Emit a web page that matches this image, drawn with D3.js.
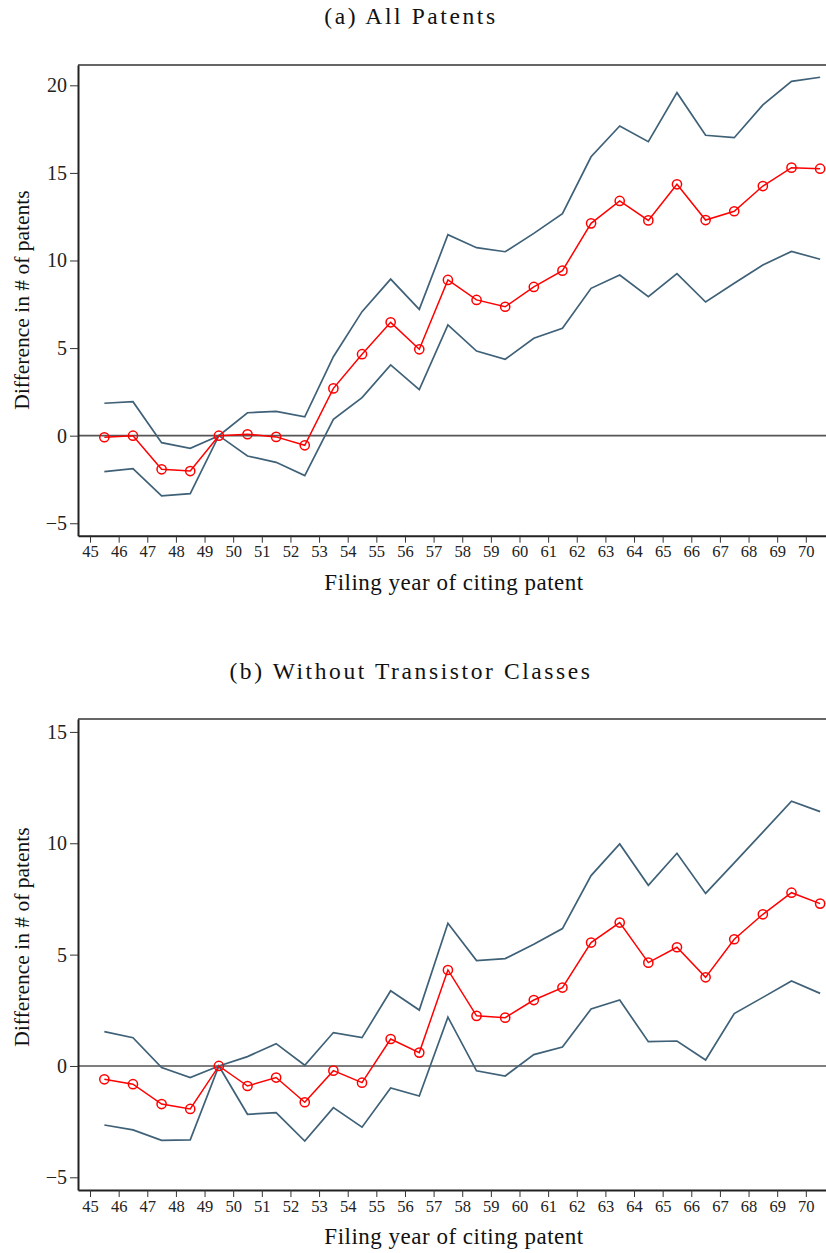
<!DOCTYPE html>
<html lang="en">
<head>
    <meta charset="UTF-8">
    <title>Difference in # of patents</title>
    <script src="https://d3js.org/d3.v7.min.js"></script>
    <style>
        body { margin: 0; background: #fff; }
        svg { display: block; font-family: "Liberation Serif", serif; }
        .tick text { fill: #222; }
    </style>
</head>
<body>
<svg width="826" height="1253"></svg>

<script>
    // filing year of citing patent (points sit mid-year)
    const years = d3.range(45.5, 71, 1);
    const xTicks = d3.range(45, 71);

    // (a) all patents
    const allEst   = [-0.09, 0.0, -1.92, -2.02, 0, 0.08, -0.07, -0.55, 2.7, 4.65, 6.47, 4.93, 8.89,
                      7.75, 7.36, 8.49, 9.42, 12.12, 13.4, 12.29, 14.35, 12.31, 12.81, 14.25, 15.3, 15.24];
    const allUpper = [1.85, 1.94, -0.4, -0.72, 0, 1.31, 1.39, 1.08, 4.51, 7.08, 8.94, 7.21, 11.47,
                      10.73, 10.5, 11.55, 12.67, 15.92, 17.68, 16.78, 19.58, 17.15, 17.01, 18.88, 20.23, 20.46];
    const allLower = [-2.05, -1.88, -3.44, -3.31, 0, -1.16, -1.52, -2.28, 0.93, 2.17, 4.04, 2.63, 6.32,
                      4.83, 4.36, 5.56, 6.13, 8.41, 9.17, 7.93, 9.25, 7.63, 8.7, 9.74, 10.52, 10.07];
    const yTicksA = [-5, 0, 5, 10, 15, 20];

    // (b) without transistor classes
    const noTrEst   = [-0.6, -0.82, -1.71, -1.93, 0, -0.9, -0.52, -1.63, -0.21, -0.75, 1.21, 0.6, 4.31,
                       2.25, 2.17, 2.96, 3.52, 5.54, 6.44, 4.64, 5.33, 3.98, 5.69, 6.81, 7.78, 7.29];
    const noTrUpper = [1.54, 1.27, -0.07, -0.52, 0, 0.42, 1.0, 0.03, 1.5, 1.27, 3.38, 2.51, 6.41,
                       4.73, 4.82, 5.46, 6.17, 8.55, 9.97, 8.11, 9.55, 7.75, 9.12, 10.5, 11.89, 11.42];
    const noTrLower = [-2.65, -2.87, -3.34, -3.32, 0, -2.17, -2.1, -3.37, -1.87, -2.75, -0.99, -1.35, 2.19,
                       -0.22, -0.45, 0.51, 0.85, 2.56, 2.96, 1.09, 1.12, 0.27, 2.35, 3.08, 3.82, 3.26];
    const yTicksB = [-5, 0, 5, 10, 15];

    const svg = d3.select("svg");
    const ciColor = "#3f6178";
    const estColor = "#ff0000";

    function drawPanel(p) {
        const g = svg.append("g");
        const x = d3.scaleLinear().domain([44.58, 70.74]).range([78, 827]);
        const y = d3.scaleLinear().domain(p.yDomain).range([p.bottom, p.top]);

        g.append("text")
            .attr("x", 411).attr("y", p.titleY)
            .attr("text-anchor", "middle")
            .attr("font-size", 23.5)
            .attr("letter-spacing", 2.6)
            .attr("fill", "#111")
            .text(p.title);

        // top border of the frame
        g.append("line")
            .attr("x1", 78).attr("x2", 830)
            .attr("y1", p.top).attr("y2", p.top)
            .attr("stroke", "#666").attr("stroke-width", 2);

        // zero line
        g.append("line")
            .attr("x1", 78).attr("x2", 830)
            .attr("y1", y(0)).attr("y2", y(0))
            .attr("stroke", "#555").attr("stroke-width", 1.6);

        const line = d3.line().x((d, i) => x(years[i])).y(d => y(d));

        [p.upper, p.lower].forEach(s => {
            g.append("path")
                .datum(s)
                .attr("d", line)
                .attr("fill", "none")
                .attr("stroke", ciColor)
                .attr("stroke-width", 1.7);
        });

        g.append("path")
            .datum(p.est)
            .attr("d", line)
            .attr("fill", "none")
            .attr("stroke", estColor)
            .attr("stroke-width", 1.5);

        g.selectAll(".pt")
            .data(p.est)
            .enter().append("circle")
            .attr("cx", (d, i) => x(years[i]))
            .attr("cy", d => y(d))
            .attr("r", 4.6)
            .attr("fill", "none")
            .attr("stroke", estColor)
            .attr("stroke-width", 1.5);

        const yAxis = g.append("g")
            .attr("transform", "translate(78,0)")
            .call(d3.axisLeft(y).tickValues(p.yTicks).tickSize(8).tickSizeOuter(0).tickPadding(3)
                .tickFormat(d => d < 0 ? "\u2212" + Math.abs(d) : d));
        yAxis.select(".domain").attr("stroke", "#222").attr("stroke-width", 2);
        yAxis.selectAll(".tick line").attr("stroke", "#333");
        yAxis.selectAll("text").attr("font-size", 20).attr("font-family", "Liberation Serif");

        const xAxis = g.append("g")
            .attr("transform", `translate(0,${p.bottom})`)
            .call(d3.axisBottom(x).tickValues(xTicks).tickSize(7).tickSizeOuter(0).tickPadding(3));
        xAxis.select(".domain").attr("stroke", "#222").attr("stroke-width", 2);
        xAxis.selectAll(".tick line").attr("stroke", "#333");
        xAxis.selectAll("text").attr("font-size", 16.5).attr("font-family", "Liberation Serif");

        g.append("text")
            .attr("x", 454).attr("y", p.bottom + 54)
            .attr("text-anchor", "middle")
            .attr("font-size", 23)
            .attr("letter-spacing", 0.5)
            .attr("fill", "#111")
            .text("Filing year of citing patent");

        g.append("text")
            .attr("transform", `translate(29,${p.yTitleY}) rotate(-90)`)
            .attr("text-anchor", "middle")
            .attr("font-size", 21.5)
            .attr("fill", "#111")
            .text("Difference in # of patents");
    }

    drawPanel({
        title: "(a) All Patents", titleY: 24, yTitleY: 300,
        top: 65, bottom: 535.7, yDomain: [-5.71, 21.16], yTicks: yTicksA,
        est: allEst, upper: allUpper, lower: allLower
    });

    drawPanel({
        title: "(b) Without Transistor Classes", titleY: 679, yTitleY: 937,
        top: 719, bottom: 1190, yDomain: [-5.57, 15.58], yTicks: yTicksB,
        est: noTrEst, upper: noTrUpper, lower: noTrLower
    });
</script>
</body>
</html>
